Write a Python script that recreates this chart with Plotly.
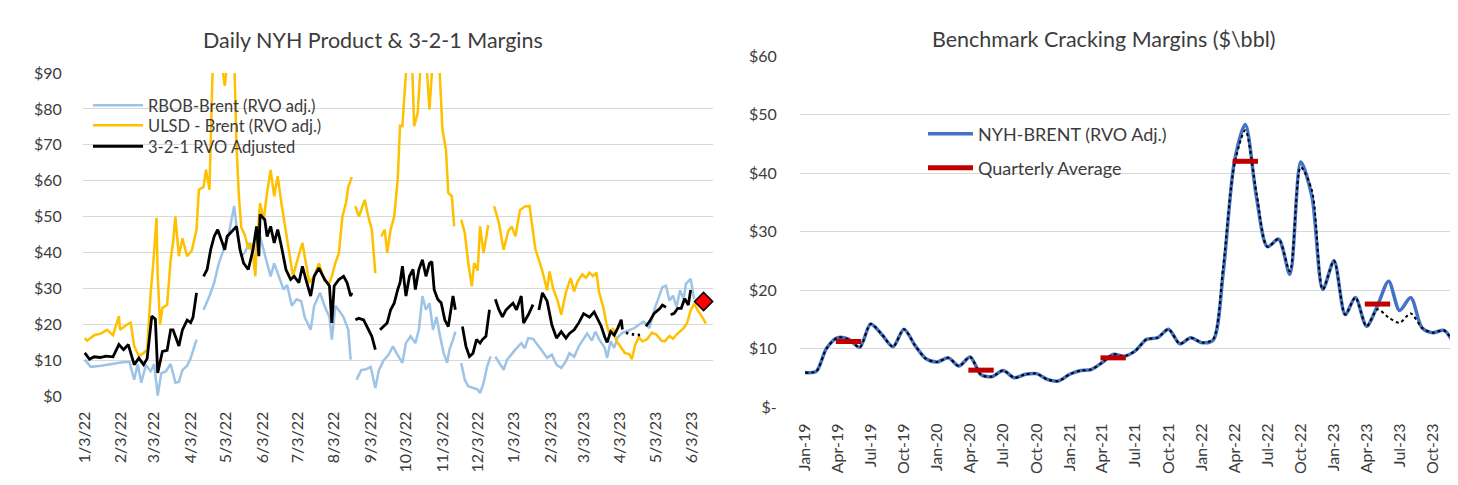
import plotly.graph_objects as go
import pandas as pd

# ---------------- Left chart: daily NYH product & 3-2-1 margins ----------------
rbob_dates = ["2022-01-03","2022-01-08","2022-01-17","2022-01-25","2022-01-31","2022-02-04","2022-02-10","2022-02-14",
              "2022-02-17","2022-02-20","2022-02-24","2022-02-28","2022-03-03","2022-03-06","2022-03-09","2022-03-13",
              "2022-03-17","2022-03-19","2022-03-21","2022-03-24","2022-03-27","2022-03-31","2022-04-03","2022-04-08",
              "2022-04-11","2022-04-14","2022-04-19","2022-04-23","2022-04-27","2022-05-01","2022-05-05","2022-05-10",
              "2022-05-13","2022-05-16","2022-05-19","2022-05-23","2022-05-27","2022-06-01","2022-06-04","2022-06-07",
              "2022-06-10","2022-06-13","2022-06-17","2022-06-21","2022-06-24","2022-06-28","2022-07-02","2022-07-06",
              "2022-07-09","2022-07-14","2022-07-17","2022-07-22","2022-07-26","2022-07-30","2022-08-01","2022-08-04",
              "2022-08-08","2022-08-11","2022-08-15","2022-08-17","2022-08-19","2022-08-22","2022-08-26","2022-08-30",
              "2022-09-03","2022-09-07","2022-09-10","2022-09-14","2022-09-18","2022-09-22","2022-09-25","2022-09-30",
              "2022-10-03","2022-10-07","2022-10-11","2022-10-14","2022-10-17","2022-10-20","2022-10-23","2022-10-26",
              "2022-10-29","2022-11-01","2022-11-04","2022-11-07","2022-11-09","2022-11-12","2022-11-14","2022-11-16",
              "2022-11-19","2022-11-22","2022-11-25","2022-11-29","2022-12-03","2022-12-05","2022-12-08","2022-12-11",
              "2022-12-14","2022-12-16","2022-12-18","2022-12-21","2022-12-25","2022-12-28","2022-12-31","2023-01-04",
              "2023-01-09","2023-01-12","2023-01-15","2023-01-19","2023-01-23","2023-01-27","2023-01-31","2023-02-04",
              "2023-02-08","2023-02-12","2023-02-16","2023-02-19","2023-02-23","2023-02-27","2023-03-03","2023-03-06",
              "2023-03-10","2023-03-13","2023-03-16","2023-03-21","2023-03-23","2023-03-26","2023-03-29","2023-04-01",
              "2023-04-05","2023-04-09","2023-04-15","2023-04-19","2023-04-23","2023-04-28","2023-05-02","2023-05-07",
              "2023-05-09","2023-05-12","2023-05-15","2023-05-18","2023-05-21","2023-05-24","2023-05-27","2023-05-29",
              "2023-06-02","2023-06-05"]
rbob_vals = [10.2, 8.2, 8.5, 9.0, 9.2, 9.5, 9.6, 4.6,
             9.0, 3.8, 8.7, 7.0, 9.0, 0.2, 6.4, 7.0,
             9.0, 6.5, 3.8, 4.0, 7.3, 8.5, 10.6, 15.8,
             None, 24.1, 27.9, 31.6, 37.1, 40.8, 44.5, 53.0,
             44.5, 39.0, 40.0, 42.7, 38.0, 44.5, 40.5, 37.0,
             33.4, 37.0, 33.4, 29.7, 31.0, 25.2, 27.0, 26.5,
             22.0, 18.5, 25.2, 28.8, 25.0, 22.0, 15.8, 25.2,
             23.5, 22.0, 18.5, 10.2, None, 4.6, 7.3, 7.5,
             8.2, 2.3, 7.3, 10.0, 11.5, 13.9, 12.0, 9.3,
             14.8, 16.7, 14.8, 18.5, 27.9, 24.1, 25.9, 18.5,
             22.1, 16.7, 12.1, 9.3, 13.0, 15.8, 18.0, None,
             9.3, 4.6, 2.8, 2.3, 1.9, 0.9, 3.7, 8.3,
             11.1, None, 11.0, 9.3, 7.4, 10.2, 11.5, 13.0,
             14.8, 13.4, 16.2, 16.0, 14.3, 12.5, 10.7, 11.6,
             8.8, 7.9, 9.8, 12.0, 11.0, 14.0, 16.0, 17.5,
             15.5, 18.0, 16.0, 13.5, 10.7, 15.3, 13.5, 16.4,
             17.7, 18.2, 19.0, 19.9, 20.8, 19.0, 23.9, 28.6,
             30.4, 30.8, 26.7, 28.0, 24.9, 29.5, 27.0, 31.3,
             32.7, 27.0]

ulsd_dates = ["2022-01-03","2022-01-05","2022-01-11","2022-01-17","2022-01-22","2022-01-27","2022-02-01","2022-02-02",
              "2022-02-08","2022-02-11","2022-02-14","2022-02-18","2022-02-22","2022-02-25","2022-02-28","2022-03-02",
              "2022-03-05","2022-03-06","2022-03-08","2022-03-10","2022-03-14","2022-03-17","2022-03-19","2022-03-21",
              "2022-03-24","2022-03-27","2022-03-31","2022-04-04","2022-04-08","2022-04-10","2022-04-14","2022-04-16",
              "2022-04-19","2022-04-20","2022-04-22","2022-04-28","2022-05-02","2022-05-05","2022-05-10","2022-05-12",
              "2022-05-14","2022-05-16","2022-05-19","2022-05-22","2022-05-25","2022-05-28","2022-05-29","2022-06-01",
              "2022-06-04","2022-06-07","2022-06-10","2022-06-13","2022-06-16","2022-06-19","2022-06-23","2022-06-25",
              "2022-06-29","2022-07-02","2022-07-07","2022-07-10","2022-07-13","2022-07-17","2022-07-21","2022-07-26",
              "2022-07-30","2022-08-01","2022-08-04","2022-08-07","2022-08-10","2022-08-13","2022-08-15","2022-08-18",
              "2022-08-19","2022-08-21","2022-08-24","2022-08-29","2022-09-01","2022-09-04","2022-09-07","2022-09-09",
              "2022-09-12","2022-09-15","2022-09-17","2022-09-20","2022-09-23","2022-09-26","2022-09-28","2022-09-30",
              "2022-10-04","2022-10-08","2022-10-10","2022-10-13","2022-10-16","2022-10-20","2022-10-23","2022-10-26",
              "2022-10-31","2022-11-03","2022-11-06","2022-11-08","2022-11-11","2022-11-13","2022-11-16","2022-11-19",
              "2022-11-22","2022-11-25","2022-11-28","2022-11-30","2022-12-03","2022-12-05","2022-12-08","2022-12-12",
              "2022-12-14","2022-12-17","2022-12-21","2022-12-25","2022-12-29","2023-01-01","2023-01-04","2023-01-08",
              "2023-01-12","2023-01-16","2023-01-21","2023-01-24","2023-01-27","2023-01-31","2023-02-02","2023-02-05",
              "2023-02-09","2023-02-12","2023-02-16","2023-02-20","2023-02-23","2023-02-26","2023-03-02","2023-03-05",
              "2023-03-08","2023-03-11","2023-03-14","2023-03-16","2023-03-20","2023-03-22","2023-03-25","2023-03-28",
              "2023-03-31","2023-04-03","2023-04-07","2023-04-11","2023-04-13","2023-04-16","2023-04-19","2023-04-22",
              "2023-04-26","2023-04-30","2023-05-04","2023-05-08","2023-05-11","2023-05-15","2023-05-18","2023-05-21",
              "2023-05-24","2023-05-27","2023-05-30","2023-06-02","2023-06-05","2023-06-08","2023-06-11","2023-06-15"]
ulsd_vals = [16.2, 15.5, 17.0, 17.5, 18.5, 17.0, 22.3, 18.5,
             20.0, 20.5, 14.0, 11.2, 12.0, 13.0, 28.8, 36.0,
             49.7, 33.5, 20.0, 24.6, 25.5, 38.0, 42.7, 50.0,
             39.0, 44.0, 39.0, 40.6, 46.4, 57.5, 58.3, 63.1,
             57.5, 69.7, 95.0, 96.0, 86.4, 95.0, 95.0, 69.6,
             55.7, 47.0, 45.0, 41.0, 42.5, 33.4, 41.0, 53.8,
             49.0, 56.8, 63.0, 55.7, 61.3, 54.0, 46.0, 40.8,
             33.4, 37.1, 42.7, 37.0, 31.6, 33.4, 37.0, 32.0,
             31.6, 33.4, 37.1, 39.9, 50.0, 53.8, 58.3, 61.0,
             None, 52.9, 50.0, 54.7, 50.0, 46.4, 34.3, None,
             44.5, 46.4, 39.9, 46.4, 50.0, 60.3, 75.3, 75.2,
             95.0, 95.0, 75.2, 78.9, 95.0, 95.0, 79.8, 95.0,
             95.0, 74.3, 68.7, 56.6, 55.7, 47.3, None, 49.2,
             45.5, 37.1, 30.6, 37.1, 35.0, 47.3, 39.9, 47.7,
             None, 52.9, 48.3, 40.8, 46.0, 47.3, 44.5, 51.9,
             52.8, 53.0, 41.0, 38.0, 34.8, 29.5, 34.8, 30.2,
             26.5, 22.7, 29.0, 32.9, 29.2, 32.0, 34.0, 33.0,
             34.4, 33.5, 34.4, 29.2, 24.5, 20.8, 17.2, 19.0,
             15.3, 14.0, 12.1, 11.7, 10.3, 14.5, 16.4, 15.3,
             15.9, 17.7, 17.2, 15.5, 15.3, 16.8, 16.0, 17.2,
             18.2, 19.0, 20.4, 23.9, 25.8, 23.9, 22.5, 20.2]

crack_dates = ["2022-01-03","2022-01-07","2022-01-11","2022-01-16","2022-01-21","2022-01-27","2022-02-01","2022-02-05",
               "2022-02-09","2022-02-14","2022-02-18","2022-02-22","2022-02-25","2022-03-01","2022-03-04","2022-03-06",
               "2022-03-10","2022-03-14","2022-03-17","2022-03-19","2022-03-21","2022-03-24","2022-03-27","2022-03-31",
               "2022-04-03","2022-04-05","2022-04-08","2022-04-11","2022-04-14","2022-04-17","2022-04-20","2022-04-23",
               "2022-04-26","2022-04-29","2022-05-02","2022-05-04","2022-05-09","2022-05-12","2022-05-15","2022-05-18",
               "2022-05-22","2022-05-26","2022-05-29","2022-05-31","2022-06-01","2022-06-05","2022-06-07","2022-06-10",
               "2022-06-13","2022-06-16","2022-06-19","2022-06-23","2022-06-27","2022-06-30","2022-07-04","2022-07-07",
               "2022-07-10","2022-07-14","2022-07-17","2022-07-21","2022-07-26","2022-07-30","2022-08-01","2022-08-03",
               "2022-08-07","2022-08-11","2022-08-14","2022-08-17","2022-08-18","2022-08-19","2022-08-21","2022-08-24",
               "2022-08-28","2022-09-01","2022-09-04","2022-09-07","2022-09-09","2022-09-11","2022-09-14","2022-09-17",
               "2022-09-20","2022-09-23","2022-09-26","2022-09-28","2022-09-30","2022-10-03","2022-10-06","2022-10-09",
               "2022-10-11","2022-10-14","2022-10-17","2022-10-20","2022-10-23","2022-10-25","2022-10-27","2022-10-30",
               "2022-11-02","2022-11-05","2022-11-08","2022-11-10","2022-11-12","2022-11-14","2022-11-17","2022-11-20",
               "2022-11-23","2022-11-26","2022-11-29","2022-12-02","2022-12-05","2022-12-07","2022-12-10","2022-12-13",
               "2022-12-15","2022-12-18","2022-12-21","2022-12-24","2022-12-27","2022-12-30","2023-01-02","2023-01-05",
               "2023-01-09","2023-01-11","2023-01-15","2023-01-19","2023-01-22","2023-01-24","2023-01-27","2023-01-31",
               "2023-02-04","2023-02-08","2023-02-12","2023-02-16","2023-02-19","2023-02-23","2023-02-27","2023-03-03",
               "2023-03-08","2023-03-12","2023-03-15","2023-03-18","2023-03-21","2023-03-23","2023-03-26","2023-03-29",
               "2023-04-01","2023-04-04","2023-04-05","2023-04-06","2023-04-08","2023-04-10","2023-04-11","2023-04-13",
               "2023-04-15","2023-04-16","2023-04-18","2023-04-20","2023-04-22","2023-04-25","2023-04-28","2023-05-02",
               "2023-05-07","2023-05-09","2023-05-12","2023-05-14","2023-05-16","2023-05-19","2023-05-22","2023-05-25",
               "2023-05-28","2023-05-31","2023-06-02"]
crack_vals = [12.1, 10.3, 11.0, 10.8, 11.2, 11.0, 14.4, 13.0,
              14.4, 8.8, 10.6, 8.8, 10.5, 22.3, 21.5, 6.5,
              12.5, 12.8, 18.5, 18.5, 16.7, 14.0, 18.5, 21.2,
              20.5, 22.0, 28.8, None, 33.4, 35.3, 40.8, 44.5,
              46.4, 43.6, 40.8, 44.5, 46.4, 47.3, 40.8, 37.1,
              35.3, 40.8, 47.3, 39.0, 50.6, 49.2, 44.5, 47.3,
              42.7, 46.4, 42.0, 35.3, 32.5, 33.4, 31.6, 36.2,
              32.5, 27.9, 33.4, 35.7, 32.5, 30.7, 20.4, 30.7,
              32.5, 33.4, 31.6, 27.9, 28.8, None, 21.3, 21.7,
              21.3, 18.5, 16.7, 13.0, None, 18.5, 19.4, 20.4,
              24.1, 25.9, 29.7, 31.6, 36.2, 27.9, 33.4, 35.3,
              29.7, 35.3, 38.0, 33.4, 37.0, 37.5, 29.7, 27.0,
              26.0, 21.3, 19.4, 24.1, 27.9, 24.1, None, 19.4,
              13.9, 11.1, 12.0, 15.8, 14.8, 15.8, 16.7, 24.1,
              None, 27.0, 24.1, 22.1, 24.0, 25.0, 25.9, 24.1,
              27.9, 20.4, 22.7, 25.5, None, 24.0, 28.8, 26.5,
              19.9, 16.2, 18.0, 16.2, 17.5, 18.5, 20.5, 23.0,
              22.0, 23.5, 21.5, 19.5, 16.5, 15.0, 18.0, 17.0,
              19.0, 21.3, 18.6, None, 17.7, 17.5, None, 17.3,
              17.2, None, 17.0, 17.1, None, 19.5, 20.8, 23.1,
              24.5, 25.4, 24.8, None, 22.7, 23.1, 24.5, 24.5,
              27.2, 25.4, 29.6]

latest_date = ["2023-06-13"]
latest_val = [26.4]

left_tick_dates = ["2022-01-03","2022-02-03","2022-03-03","2022-04-03","2022-05-03","2022-06-03","2022-07-03",
                   "2022-08-03","2022-09-03","2022-10-03","2022-11-03","2022-12-03","2023-01-03","2023-02-03",
                   "2023-03-03","2023-04-03","2023-05-03","2023-06-03"]
left_tick_text = ["1/3/22","2/3/22","3/3/22","4/3/22","5/3/22","6/3/22","7/3/22","8/3/22","9/3/22","10/3/22",
                  "11/3/22","12/3/22","1/3/23","2/3/23","3/3/23","4/3/23","5/3/23","6/3/23"]
left_y_ticks = [0, 10, 20, 30, 40, 50, 60, 70, 80, 90]
left_y_text = ["$0","$10","$20","$30","$40","$50","$60","$70","$80","$90"]

# ---------------- Right chart: benchmark cracking margins (monthly) ----------------
month_start = "2019-01-01"
nyh_vals = [5.9, 6.1, 10.0, 11.85, 11.6, 10.2, 14.2, 12.4, 10.3, 13.3, 10.5, 8.25,
            7.7, 8.4, 7.0, 8.55, 5.5, 5.2, 6.25, 5.0, 5.6, 5.7, 4.7, 4.45,
            5.6, 6.25, 6.4, 7.6, 9.0, 8.7, 9.6, 11.55, 11.85, 13.3, 10.8, 11.85,
            11.0, 11.4, 23.0, 42.0, 48.3, 35.8, 27.4, 28.7, 22.7, 41.9, 36.0, 20.1,
            25.0, 15.8, 18.7, 13.8, 17.3, 21.5, 16.5, 18.7, 13.55, 12.7, 13.1, 10.5]
nyh_alt_vals = [5.9, 6.1, 10.0, 11.85, 11.6, 10.2, 14.2, 12.4, 10.3, 13.3, 10.5, 8.25,
                7.7, 8.4, 7.0, 8.55, 5.5, 5.2, 6.25, 5.0, 5.6, 5.7, 4.7, 4.45,
                5.6, 6.25, 6.4, 7.6, 9.0, 8.7, 9.6, 11.55, 11.85, 13.3, 10.8, 11.85,
                11.0, 11.6, 24.0, 41.5, 47.3, 36.5, 27.4, 28.7, 23.2, 41.0, 37.0, 20.1,
                25.0, 15.8, 18.7, 13.8, 16.7, 15.3, 14.4, 16.0, 13.55, 12.7, 13.1, 10.5]
qavg_mid_months = ["2019-05-01", "2020-05-01", "2021-05-01", "2022-05-01", "2023-05-01"]
qavg_vals = [11.2, 6.3, 8.4, 42.0, 17.6]
right_y_ticks = [0, 10, 20, 30, 40, 50, 60]
right_y_text = ["$-", "$10", "$20", "$30", "$40", "$50", "$60"]

months = pd.date_range(month_start, periods=len(nyh_vals), freq="MS")

# ---------------- Styling ----------------
FONT = "Lato, 'Open Sans', sans-serif"
TXT = "#3c3c3c"
GRID = "#d9d9d9"
W, H = 1458, 485

fig = go.Figure()

fig.add_trace(go.Scatter(x=rbob_dates, y=rbob_vals, mode="lines", name="RBOB-Brent (RVO adj.)",
                         line=dict(color="#9dc3e6", width=2.5), connectgaps=False,
                         xaxis="x", yaxis="y", legend="legend"))
fig.add_trace(go.Scatter(x=ulsd_dates, y=ulsd_vals, mode="lines", name="ULSD - Brent (RVO adj.)",
                         line=dict(color="#ffc000", width=2.5), connectgaps=False,
                         xaxis="x", yaxis="y", legend="legend2"))
fig.add_trace(go.Scatter(x=crack_dates, y=crack_vals, mode="lines", name="3-2-1 RVO Adjusted",
                         line=dict(color="#000000", width=2.8), connectgaps=False,
                         xaxis="x", yaxis="y", legend="legend3"))
fig.add_trace(go.Scatter(x=latest_date, y=latest_val, mode="markers", showlegend=False,
                         marker=dict(symbol="diamond", size=14, color="#ff0000",
                                     line=dict(color="#000000", width=1.5)),
                         cliponaxis=False, xaxis="x", yaxis="y"))

fig.add_trace(go.Scatter(x=months, y=nyh_vals, mode="lines", name="NYH-BRENT (RVO Adj.)",
                         line=dict(color="#4472c4", width=3.5, shape="spline", smoothing=0.8),
                         xaxis="x2", yaxis="y2", legend="legend4"))
fig.add_trace(go.Scatter(x=months, y=nyh_alt_vals, mode="lines", showlegend=False,
                         line=dict(color="#000000", width=2, dash="dot", shape="spline", smoothing=0.8),
                         xaxis="x2", yaxis="y2"))
for i, (m, v) in enumerate(zip(qavg_mid_months, qavg_vals)):
    mid = pd.Timestamp(m)
    fig.add_trace(go.Scatter(x=[mid - pd.Timedelta(days=35), mid + pd.Timedelta(days=35)], y=[v, v],
                             mode="lines", name="Quarterly Average", showlegend=(i == 0),
                             line=dict(color="#c00000", width=5),
                             xaxis="x2", yaxis="y2", legend="legend5"))

axis_common = dict(showline=False, zeroline=False, gridcolor=GRID, gridwidth=1.3,
                   tickfont=dict(family=FONT, size=16, color=TXT), automargin=False)

fig.update_layout(
    width=W, height=H, margin=dict(l=0, r=0, t=0, b=0),
    paper_bgcolor="white", plot_bgcolor="white",
    font=dict(family=FONT, color=TXT),
    xaxis=dict(domain=[75 / W, 705 / W], type="date", range=["2022-01-01 12:00", "2023-06-21"],
               tickvals=left_tick_dates, ticktext=left_tick_text, tickangle=-90, showgrid=False,
               ticks="outside", ticklen=8, tickcolor="rgba(0,0,0,0)", anchor="y", **axis_common),
    yaxis=dict(domain=[1 - 388.3 / H, 1 - 65 / H], range=[0, 90], tickvals=left_y_ticks, ticktext=left_y_text,
               showgrid=True, ticks="outside", ticklen=17, tickcolor="rgba(0,0,0,0)", anchor="x", **axis_common),
    xaxis2=dict(domain=[792 / W, 1452 / W], type="date", range=["2018-12-18", "2023-12-15"],
                tickvals=months[::3], tickformat="%b-%y", tickangle=-90, showgrid=False,
                ticks="outside", ticklen=9, tickcolor="rgba(0,0,0,0)", anchor="y2", **axis_common),
    yaxis2=dict(domain=[1 - 399 / H, 1 - 48 / H], range=[0, 60], tickvals=right_y_ticks, ticktext=right_y_text,
                showgrid=True, ticks="outside", ticklen=19, tickcolor="rgba(0,0,0,0)", anchor="x2", **axis_common),
)

def leg(x_px, y_px, iw, fs):
    return dict(x=x_px / W, y=1 - y_px / H, xanchor="left", yanchor="middle",
                bgcolor="rgba(0,0,0,0)", font=dict(family=FONT, size=fs, color=TXT),
                itemwidth=iw, borderwidth=0, tracegroupgap=0)

fig.update_layout(legend=leg(80, 97.5, 50, 16.5), legend2=leg(80, 117.5, 50, 16.5), legend3=leg(80, 138.5, 50, 16.5),
                  legend4=leg(915, 126, 45, 18), legend5=leg(915, 160, 45, 18))

fig.add_annotation(text="Daily NYH Product &amp; 3-2-1 Margins", x=365 / W, y=1 - 32 / H, xref="paper", yref="paper",
                   showarrow=False, font=dict(family=FONT, size=21.5, color=TXT), xanchor="center", yanchor="middle")
fig.add_annotation(text="Benchmark Cracking Margins ($\\bbl)", x=1096 / W, y=1 - 31 / H, xref="paper", yref="paper",
                   showarrow=False, font=dict(family=FONT, size=21.5, color=TXT), xanchor="center", yanchor="middle")

fig.write_html("out.html")
